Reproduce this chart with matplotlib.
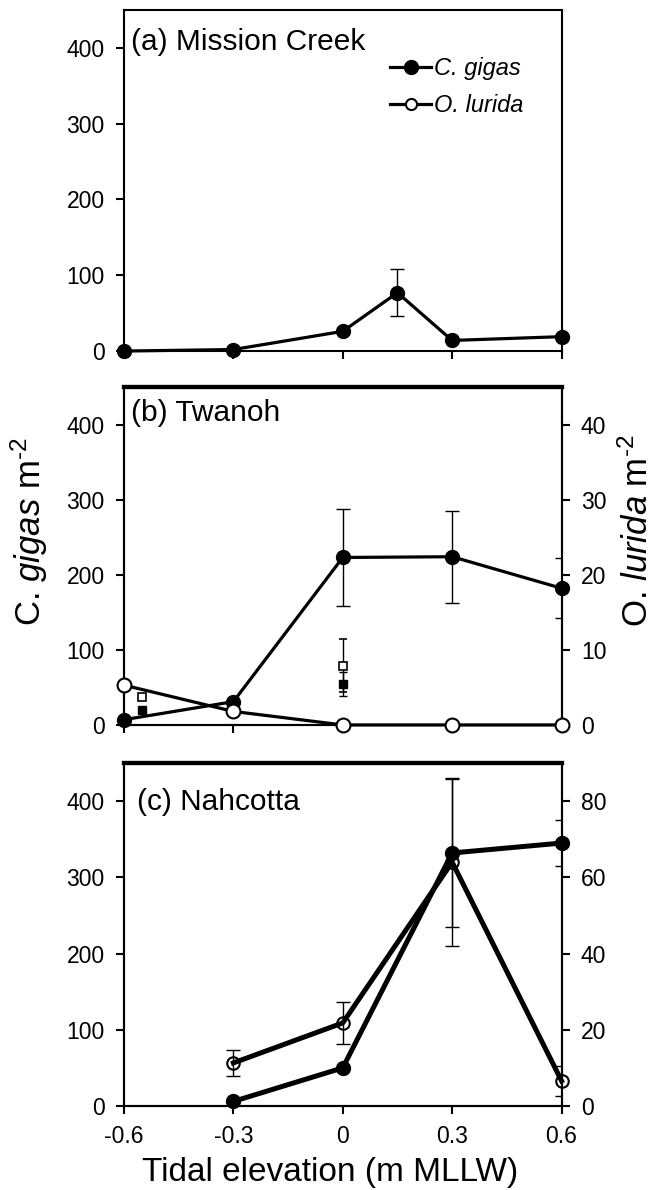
import matplotlib
matplotlib.use("Agg")
import matplotlib.pyplot as plt
from matplotlib.lines import Line2D

# fontes parecidas com Arial
plt.rcParams['font.family'] = ['Liberation Sans', 'DejaVu Sans']
plt.rcParams['mathtext.fontset'] = 'custom'
plt.rcParams['mathtext.rm'] = 'Liberation Sans'
plt.rcParams['mathtext.it'] = 'Liberation Sans:italic'

# dados
elev_ticks = [-0.6, -0.3, 0, 0.3, 0.6]

# (a) Mission Creek
a_x = [-0.6, -0.3, 0, 0.15, 0.3, 0.6]
a_gigas = [0, 2, 26, 77, 14, 19]
a_gigas_err = [0, 0, 0, 31, 0, 0]

# (b) Twanoh
b_x = [-0.6, -0.3, 0, 0.3, 0.6]
b_gigas = [7, 31, 223, 224, 182]
b_gigas_err = [0, 0, 65, 61, 40]
b_lurida = [5.3, 1.8, 0, 0, 0]
b_sq_x = [-0.55, 0.0]
b_sq_open = [3.7, 7.9]
b_sq_open_err = [0.4, 3.5]
b_sq_fill = [2.0, 5.4]
b_sq_fill_err = [0.4, 1.6]

# (c) Nahcotta
c_x = [-0.3, 0, 0.3, 0.6]
c_gigas = [6, 50, 332, 345]
c_gigas_err = [0, 0, 97, 30]
c_lurida = [11.3, 21.8, 64, 6.6]
c_lurida_err = [3.5, 5.5, 22, 4]

tick_fs = 16.5
lw_spine = 1.5

fig = plt.figure(figsize=(6.56, 11.9), dpi=100)
L, W = 0.189, 0.667
ax_a = fig.add_axes([L, 0.705, W, 0.2866])
ax_b = fig.add_axes([L, 0.3908, W, 0.2840])
ax_c = fig.add_axes([L, 0.0706, W, 0.2882])


def base(ax):
    ax.set_xlim(-0.6, 0.6)
    ax.set_ylim(0, 450)
    ax.set_xticks(elev_ticks)
    ax.set_yticks([0, 100, 200, 300, 400])
    for s in ax.spines.values():
        s.set_linewidth(lw_spine)
    ax.tick_params(direction='out', length=6, width=1.5, labelsize=tick_fs, pad=8)


def direita(ax2, top, passos):
    ax2.set_ylim(0, top)
    ax2.set_yticks(passos)
    ax2.tick_params(direction='out', length=6, width=1.5, labelsize=tick_fs, pad=8)
    for s in ax2.spines.values():
        s.set_linewidth(lw_spine)
    ax2.spines['top'].set_linewidth(3)


# painel a
base(ax_a)
ax_a.set_xticklabels([])
ax_a.errorbar(a_x, a_gigas, yerr=a_gigas_err, fmt='none', ecolor='black', elinewidth=1, capsize=5, zorder=2)
ax_a.plot(a_x, a_gigas, '-o', color='black', lw=2.3, ms=10, clip_on=False, zorder=3)
ax_a.text(0.016, 0.905, '(a) Mission Creek', transform=ax_a.transAxes, fontsize=21.5, va='center', ha='left')
handles = [Line2D([], [], color='black', lw=2.3, marker='o', ms=10),
           Line2D([], [], color='black', lw=2.3, marker='o', ms=8, mfc='white', mew=1.5)]
ax_a.legend(handles, ['C. gigas', 'O. lurida'], loc='upper left', bbox_to_anchor=(0.57, 0.91),
            frameon=False, prop={'style': 'italic', 'size': 17}, handlelength=1.75,
            handletextpad=0.1, labelspacing=0.6, borderpad=0.2)

# painel b
base(ax_b)
ax_b.set_xticklabels([])
ax_b.spines['top'].set_linewidth(3)
ax_b2 = ax_b.twinx()
direita(ax_b2, 45, [0, 10, 20, 30, 40])
ax_b.errorbar(b_x, b_gigas, yerr=b_gigas_err, fmt='none', ecolor='black', elinewidth=1, capsize=5, zorder=2)
ax_b.plot(b_x, b_gigas, '-o', color='black', lw=2.3, ms=10, clip_on=False, zorder=3)
ax_b2.errorbar(b_sq_x, b_sq_open, yerr=b_sq_open_err, fmt='s', color='black', mfc='white', ms=6,
               mew=1.2, elinewidth=1, capsize=3, zorder=2)
ax_b2.errorbar(b_sq_x, b_sq_fill, yerr=b_sq_fill_err, fmt='s', color='black', ms=6,
               elinewidth=1, capsize=3, zorder=2)
ax_b2.plot(b_x, b_lurida, '-o', color='black', lw=2.3, ms=10, mfc='white', mew=1.5, clip_on=False, zorder=3)
ax_b.text(0.016, 0.923, '(b) Twanoh', transform=ax_b.transAxes, fontsize=21.5, va='center', ha='left')

# painel c
base(ax_c)
ax_c.spines['top'].set_linewidth(3)
ax_c2 = ax_c.twinx()
direita(ax_c2, 90, [0, 20, 40, 60, 80])
ax_c.set_xticklabels(['-0.6', '-0.3', '0', '0.3', '0.6'])
ax_c.errorbar(c_x, c_gigas, yerr=c_gigas_err, fmt='none', ecolor='black', elinewidth=1, capsize=5, zorder=2)
ax_c.plot(c_x, c_gigas, '-o', color='black', lw=3.6, ms=10, clip_on=False, zorder=3)
ax_c2.errorbar(c_x, c_lurida, yerr=c_lurida_err, fmt='none', ecolor='black', elinewidth=1, capsize=5, zorder=2)
ax_c2.plot(c_x, c_lurida, '-o', color='black', lw=3.6, ms=9, mfc='none', mew=1.5, clip_on=False, zorder=3)
ax_c.text(0.03, 0.886, '(c) Nahcotta', transform=ax_c.transAxes, fontsize=21.5, va='center', ha='left')
ax_c.set_xlabel('Tidal elevation (m MLLW)', fontsize=24)
ax_c.xaxis.set_label_coords(0.472, -0.15)

# titulos dos eixos y
fig.text(0.044, 1 - 532 / 1190, r'C. $gigas$ m$^{\text{-}2}$', rotation=90, fontsize=25, ha='center', va='center')
fig.text(0.972, 1 - 531 / 1190, r'O. $lurida$ m$^{\text{-}2}$', rotation=90, fontsize=25, ha='center', va='center')

fig.savefig('out.png', dpi=100)
